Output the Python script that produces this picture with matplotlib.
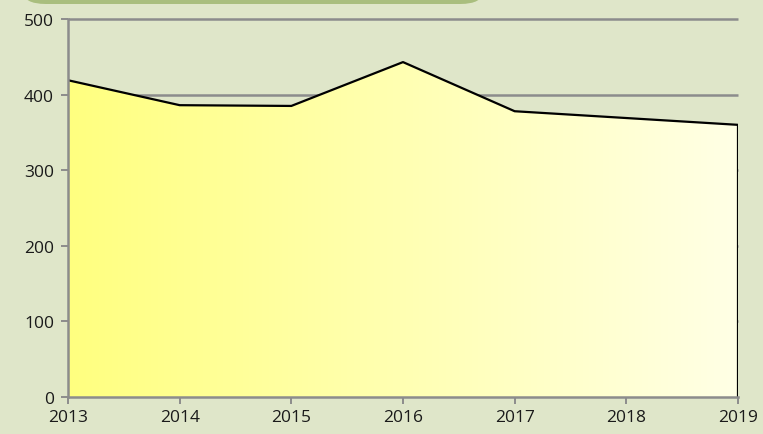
import matplotlib.pyplot as plt
import numpy as np
from matplotlib.patches import FancyBboxPatch, Polygon

years = [2013, 2014, 2015, 2016, 2017, 2018, 2019]
values = [419, 386, 385, 443, 378, 369, 360]
y_ticks = [0, 100, 200, 300, 400, 500]

bg = "#DFE6C9"
grid_color = "#8C8C8C"

plt.rcParams["font.family"] = ["Open Sans", "DejaVu Sans"]

fig = plt.figure(figsize=(7.63, 4.35), dpi=100, facecolor=bg)
ax = fig.add_axes([68 / 763, 1 - 398 / 435, 670 / 763, 378 / 435])
ax.set_facecolor(bg)

# header band peeking in at the top
band = FancyBboxPatch((23 / 763, 1 - 5 / 435), 460 / 763, 20 / 435,
                      boxstyle="round,pad=0,rounding_size=0.03",
                      transform=fig.transFigure, facecolor="#A9BE7E",
                      edgecolor="none", zorder=0)
fig.patches.append(band)

ax.set_xlim(years[0], years[-1])
ax.set_ylim(0, 500)

for t in y_ticks[1:]:
    ax.axhline(t, color=grid_color, lw=1.8, zorder=1, clip_on=False,
               solid_capstyle="butt")

# gradient fill clipped to the area polygon
verts = [(years[0], 0)] + list(zip(years, values)) + [(years[-1], 0)]
poly = Polygon(verts, closed=True, facecolor="none", edgecolor="none")
ax.add_patch(poly)
grad = np.linspace(0, 1, 256).reshape(1, -1)
left = np.array([1.0, 1.0, 0.50])
right = np.array([1.0, 1.0, 0.90])
img = left[None, None, :] * (1 - grad[..., None]) + right[None, None, :] * grad[..., None]
im = ax.imshow(img, extent=[years[0], years[-1], 0, 500], aspect="auto",
               zorder=2, interpolation="bilinear")
im.set_clip_path(poly)

ax.plot(years, values, color="black", lw=1.6, zorder=3)
ax.vlines(years[-1], 0, values[-1], color="black", lw=1.6, zorder=3)

for side in ["top", "right"]:
    ax.spines[side].set_visible(False)
for side in ["left", "bottom"]:
    ax.spines[side].set_color(grid_color)
    ax.spines[side].set_linewidth(1.8)
    ax.spines[side].set_zorder(4)

ax.set_xticks(years)
ax.set_yticks(y_ticks)
ax.tick_params(axis="both", colors=grid_color, labelcolor="#1A1A1A",
               labelsize=12.5, width=1.4, length=5, direction="out")
ax.tick_params(axis="x", pad=4)
ax.tick_params(axis="y", pad=5)

fig.savefig("out.png", dpi=100, facecolor=bg)
